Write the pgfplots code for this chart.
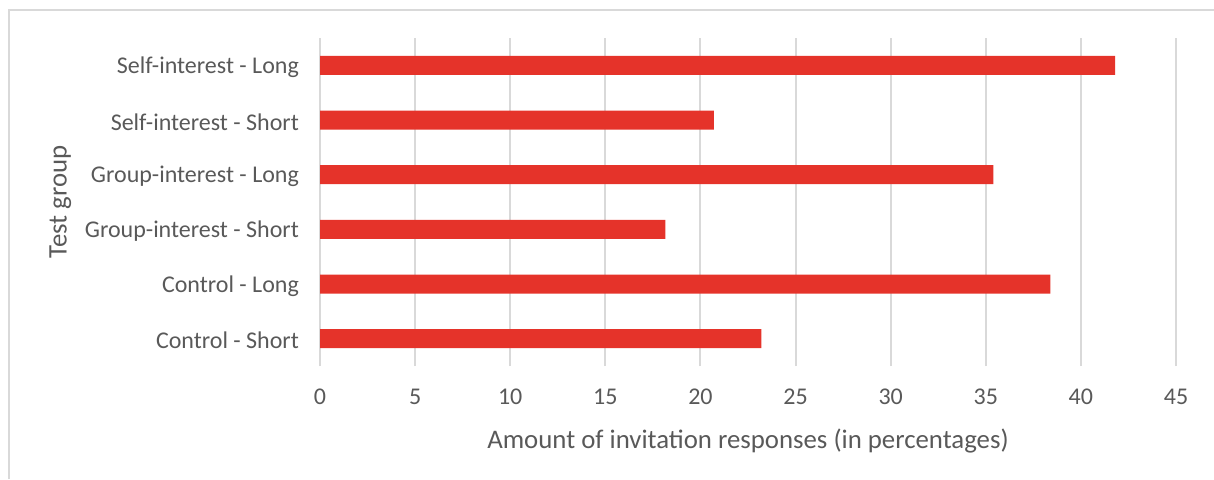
\documentclass[border=0pt]{standalone}
\usepackage{pgfplots}
\pgfplotsset{compat=1.18}
\usepackage{fontspec}
\setmainfont{Carlito}
\definecolor{barred}{HTML}{E5332A}
\definecolor{gridgray}{HTML}{D9D9D9}
\definecolor{txtgray}{HTML}{595959}
\begin{document}
\begin{tikzpicture}
\path[use as bounding box] (0,0) rectangle (607pt,239.5pt);
% chart area frame
\draw[gridgray, line width=1pt] (4.5pt,0) -- (4.5pt,234.5pt) -- (607pt,234.5pt);
\begin{axis}[
  at={(160pt,56.5pt)}, anchor=south west,
  scale only axis, width=428pt, height=164pt,
  xbar, bar width=9.5pt, bar shift=0pt,
  xmin=0, xmax=45, ymin=-0.5, ymax=5.5,
  xtick={0,5,...,45},
  ytick={0,1,2,3,4,5},
  yticklabels={Control - Short, Control - Long, Group-interest - Short, Group-interest - Long, Self-interest - Short, Self-interest - Long},
  axis line style={draw=none},
  major tick length=0pt,
  xmajorgrids, grid style={gridgray, line width=1pt},
  tick label style={font=\fontsize{12}{14}\selectfont, text=txtgray},
  /pgf/number format/assume math mode=true,
  xticklabel style={yshift=-8pt},
  yticklabel style={xshift=-7pt, yshift=-1pt},
  xlabel={Amount of invitation responses (in percentages)},
  ylabel={Test group},
  label style={font=\fontsize{13.4}{16}\selectfont, text=txtgray},
  xlabel style={yshift=-5pt},
  ylabel style={yshift=0pt},
]
\addplot[fill=barred, draw=none] coordinates {
  (23.2,0) (38.4,1) (18.15,2) (35.4,3) (20.7,4) (41.8,5)
};
\end{axis}
\end{tikzpicture}
\end{document}
